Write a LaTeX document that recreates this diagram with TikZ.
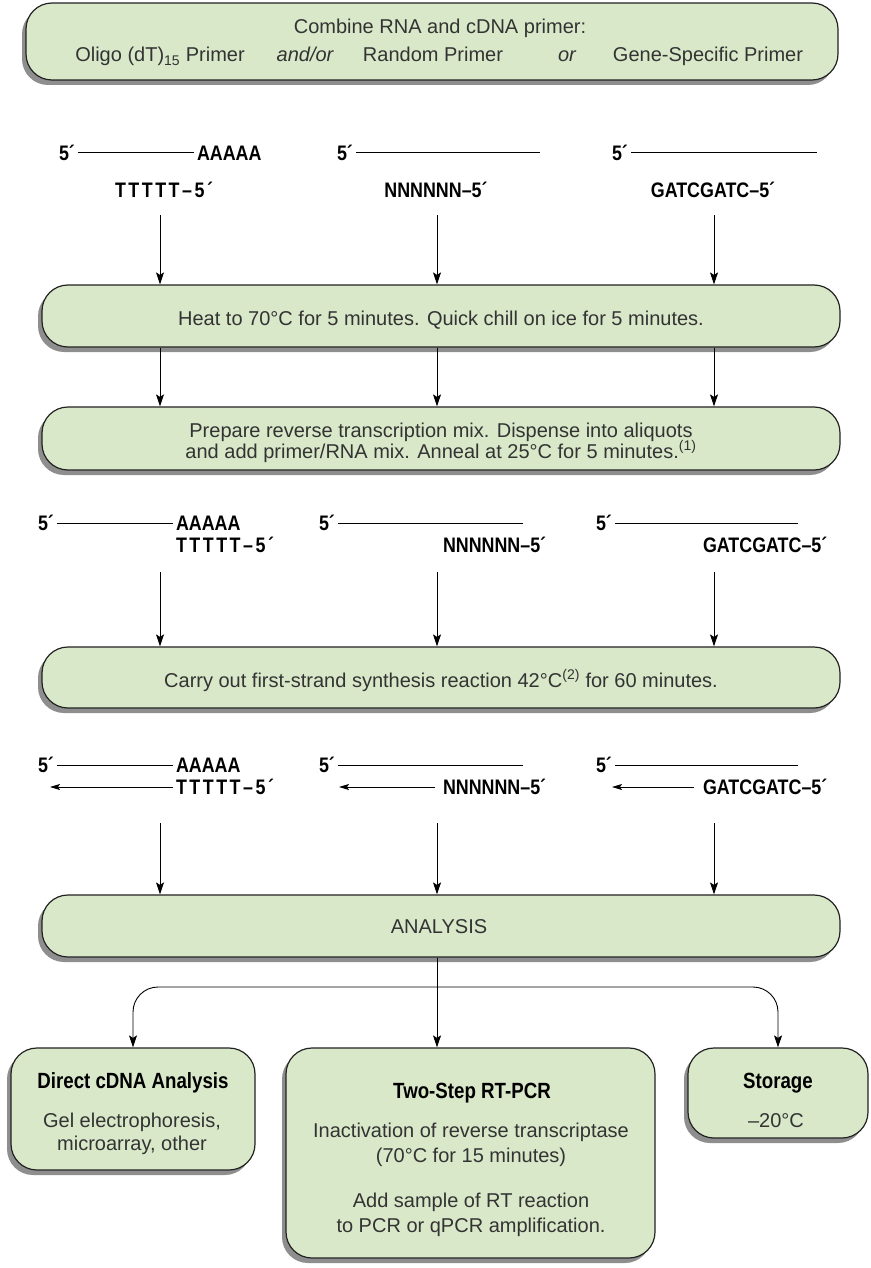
\documentclass[tikz,border=0pt]{standalone}
\usepackage{fontspec}
\setmainfont{Liberation Sans}
\newfontfamily\dnafont{Liberation Sans}[FakeStretch=0.85]
\newfontfamily\dnawide{Liberation Sans}[FakeStretch=0.85,LetterSpace=12]
\usetikzlibrary{arrows.meta,shadows}
\definecolor{boxgreen}{HTML}{D9E8C9}
\definecolor{edge}{HTML}{222222}
\definecolor{txt}{HTML}{333333}
\definecolor{shade}{HTML}{8E8E8E}
\begin{document}
\begin{tikzpicture}[x=1pt,y=-1pt,
  box/.style={draw=edge, line width=1.2pt, fill=boxgreen, rounded corners=26pt, inner sep=0pt,
     drop shadow={shadow xshift=-4pt, shadow yshift=-5pt, fill=shade, opacity=1}},
  body/.style={font=\fontsize{20}{24}\selectfont, text=txt, inner sep=0pt, anchor=base},
  ital/.style={body, font=\itshape\fontsize{20}{24}\selectfont},
  head/.style={font=\dnafont\bfseries\fontsize{22}{26}\selectfont, text=black, inner sep=0pt, anchor=base},
  dna/.style={font=\dnafont\bfseries\fontsize{21}{21}\selectfont, inner sep=0pt, outer sep=3pt, anchor=west},
  dnaT/.style={dna, font=\dnawide\bfseries\fontsize{21}{21}\selectfont},
  arr/.style={draw=black, line width=0.9pt, -{Stealth[length=12pt,width=8pt,inset=2.5pt]}},
  sarr/.style={draw=black, line width=0.9pt, -{Stealth[length=10pt,width=6pt,inset=2pt]}},
  strand/.style={draw=black, line width=1pt},
]
\useasboundingbox (0,0) rectangle (870,1268);

% ---------- boxes ----------
\node[box, minimum width=812pt, minimum height=77pt] (top) at (432,41.5) {};
\node[box, minimum width=798pt, minimum height=62pt] (heat) at (441,316) {};
\node[box, minimum width=798pt, minimum height=63pt] (prep) at (441,438.5) {};
\node[box, minimum width=798pt, minimum height=61pt] (carry) at (441,677.5) {};
\node[box, minimum width=798pt, minimum height=62pt] (ana) at (441,926) {};
\node[box, minimum width=244pt, minimum height=122pt] (direct) at (133,1109) {};
\node[box, minimum width=369pt, minimum height=210pt] (two) at (470.5,1153) {};
\node[box, minimum width=180pt, minimum height=90pt] (stor) at (778,1093) {};

% ---------- box texts ----------
\node[body] (t0) at (440,34) {Combine RNA and cDNA primer:};
\node[body] (t1) at (160,62) {Oligo (dT)\textsubscript{15} Primer};
\node[ital] (t2) at (305,62) {and/or};
\node[body] (t3) at (433,62) {Random Primer};
\node[ital] (t4) at (567,62) {or};
\node[body] (t5) at (708,62) {Gene-Specific Primer};

\node[body] (heatT) at (441,325) {Heat to 70°C for 5 minutes. Quick chill on ice for 5 minutes.};
\node[body] (prepT1) at (441,437) {Prepare reverse transcription mix. Dispense into aliquots};
\node[body] (prepT2) at (441,458) {and add primer/RNA mix. Anneal at 25°C for 5 minutes.\textsuperscript{(1)}};
\node[body] (carryT) at (441,687) {Carry out first-strand synthesis reaction 42°C\textsuperscript{(2)} for 60 minutes.};
\node[body] (anaT) at (439,933) {ANALYSIS};

\node[head] (dirH) at (133,1088) {Direct cDNA Analysis};
\node[body] (dirT1) at (132,1127) {Gel electrophoresis,};
\node[body] (dirT2) at (132,1150) {microarray, other};
\node[head] (twoH) at (472,1098) {Two-Step RT-PCR};
\node[body] (twoT1) at (471,1137) {Inactivation of reverse transcriptase};
\node[body] (twoT2) at (471,1162) {(70°C for 15 minutes)};
\node[body] (twoT3) at (471,1207) {Add sample of RT reaction};
\node[body] (twoT4) at (471,1232) {to PCR or qPCR amplification.};
\node[head] (storH) at (778,1088) {Storage};
\node[body] (storT) at (776,1127) {–20°C};

% ---------- row 1 ----------
\node[dna] (r1a5) at (56,153) {5´};
\node[dna] (r1aA) at (194,153) {AAAAA};
\draw[strand] (r1a5.east) -- (r1aA.west);
\node[dnaT, anchor=center] (r1aT) at (164,190) {TTTTT–5´};
\node[dna] (r1b5) at (334,153) {5´};
\coordinate (r1bE) at (540,153);
\draw[strand] (r1b5.east) -- (r1b5.east -| r1bE);
\node[dna, anchor=center] (r1bN) at (436,190) {NNNNNN–5´};
\node[dna] (r1c5) at (609,153) {5´};
\coordinate (r1cE) at (817,153);
\draw[strand] (r1c5.east) -- (r1c5.east -| r1cE);
\node[dna, anchor=center] (r1cG) at (713,190) {GATCGATC–5´};

% ---------- row 2 ----------
\node[dna] (r2a5) at (35,523) {5´};
\node[dna] (r2aA) at (173,523) {AAAAA};
\draw[strand] (r2a5.east) -- (r2aA.west);
\node[dnaT] (r2aT) at (173,545) {TTTTT–5´};
\node[dna] (r2b5) at (316,523) {5´};
\coordinate (r2bE) at (523,523);
\draw[strand] (r2b5.east) -- (r2b5.east -| r2bE);
\node[dna] (r2bN) at (440,545) {NNNNNN–5´};
\node[dna] (r2c5) at (593,523) {5´};
\coordinate (r2cE) at (798,523);
\draw[strand] (r2c5.east) -- (r2c5.east -| r2cE);
\node[dna] (r2cG) at (700,545) {GATCGATC–5´};

% ---------- row 3 ----------
\node[dna] (r3a5) at (35,765) {5´};
\node[dna] (r3aA) at (173,765) {AAAAA};
\draw[strand] (r3a5.east) -- (r3aA.west);
\node[dnaT] (r3aT) at (173,787) {TTTTT–5´};
\coordinate (r3aL) at (50,787);
\draw[sarr] (r3aT.west) -- (r3aT.west -| r3aL);
\node[dna] (r3b5) at (316,765) {5´};
\coordinate (r3bE) at (523,765);
\draw[strand] (r3b5.east) -- (r3b5.east -| r3bE);
\node[dna] (r3bN) at (440,787) {NNNNNN–5´};
\coordinate (r3bL) at (339,787);
\draw[sarr, shorten <=5pt] (r3bN.west) -- (r3bN.west -| r3bL);
\node[dna] (r3c5) at (593,765) {5´};
\coordinate (r3cE) at (798,765);
\draw[strand] (r3c5.east) -- (r3c5.east -| r3cE);
\node[dna] (r3cG) at (700,787) {GATCGATC–5´};
\coordinate (r3cL) at (612,787);
\draw[sarr, shorten <=6pt] (r3cG.west) -- (r3cG.west -| r3cL);

% ---------- vertical arrows ----------
\foreach \x [count=\i] in {160,437,714} {
  \coordinate (s1\i) at (\x,215);
  \draw[arr] (s1\i) -- (s1\i |- heat.north);
  \draw[arr] (heat.south -| s1\i) -- (prep.north -| s1\i);
  \coordinate (s3\i) at (\x,572);
  \draw[arr] (s3\i) -- (s3\i |- carry.north);
  \coordinate (s4\i) at (\x,823);
  \draw[arr] (s4\i) -- (s4\i |- ana.north);
}

% ---------- branches ----------
\coordinate (bm) at (437,987);
\draw[arr] (ana.south -| bm) -- (two.north -| bm);
\draw[arr, rounded corners=25pt] (bm) -| (direct.north);
\draw[arr, rounded corners=25pt] (bm) -| (stor.north);
\end{tikzpicture}
\end{document}
